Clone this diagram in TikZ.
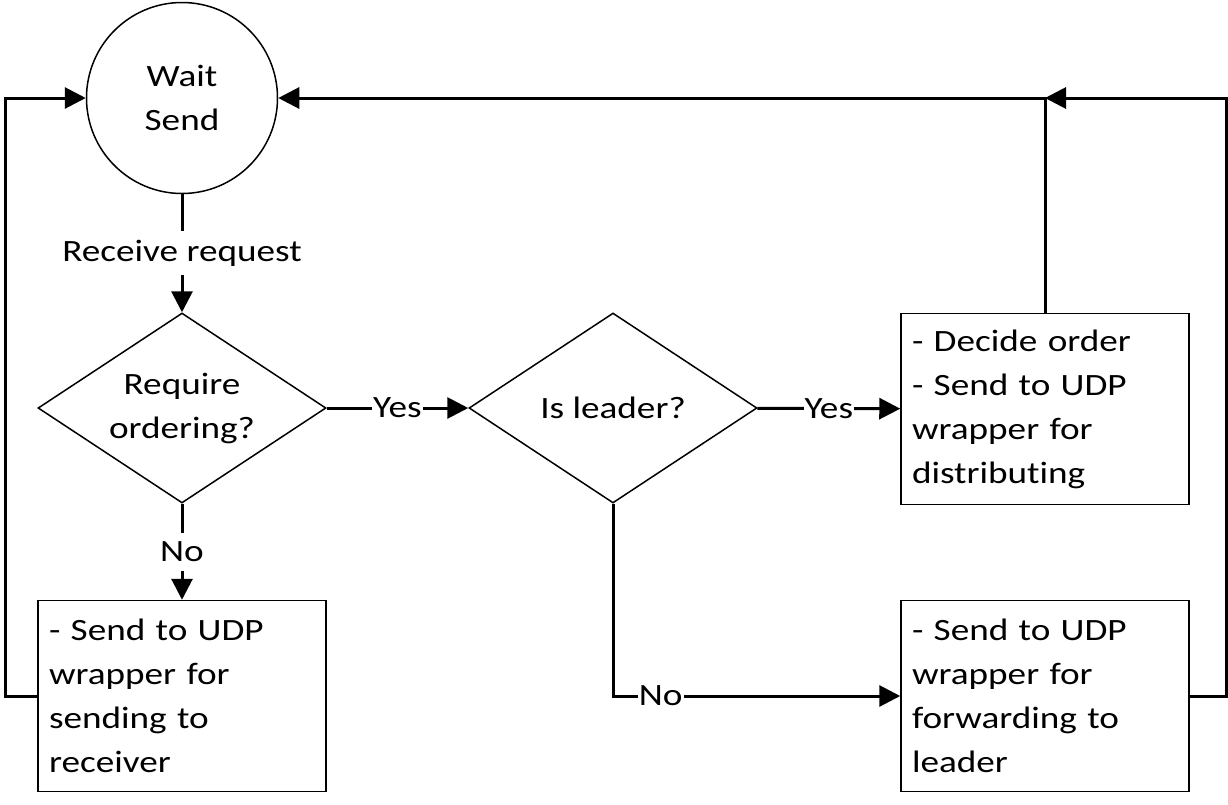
\documentclass[tikz,border=0pt]{standalone}
\usepackage{fontspec}
\setmainfont{Carlito}[FakeStretch=1.2,Ligatures=NoCommon]
\usetikzlibrary{arrows.meta,shapes.geometric}
\begin{document}
\begin{tikzpicture}[x=1pt,y=-1pt,font=\fontsize{31}{44}\selectfont,
    state/.style={circle,draw,line width=1.5pt,minimum size=191pt,inner sep=0pt,align=center},
    test/.style={diamond,draw,line width=1.5pt,minimum width=288pt,minimum height=190pt,inner sep=0pt},
    task/.style={rectangle,draw,line width=1.5pt,minimum width=288pt,minimum height=191pt,inner sep=11pt,text width=266pt,align=left},
    lbl/.style={fill=white,inner xsep=1pt,inner ysep=9pt}]
      \useasboundingbox (0,0) rectangle (1228,804);
      \node[state] (w) at (182,98) {Wait\\Send};
      \node[test,label={[align=center]center:Require\\ordering?}] (d1) at (182,408) {};
      \node[test,label={center:Is leader?}] (d2) at (613,408) {};
      \node[task] (b1) at (1045,409) {- Decide order\\- Send to UDP\\wrapper for\\distributing};
      \node[task] (b2) at (1045,696) {- Send to UDP\\wrapper for\\forwarding to\\leader};
      \node[task] (b3) at (182,696) {- Send to UDP\\wrapper for\\sending to\\receiver};
      \coordinate (l) at (5,98);
      \coordinate (r) at (1226,98);
      \coordinate (t) at (b1.north |- w.east);
      \begin{scope}[line width=3pt,-{Triangle[length=21pt,width=21pt]}]
        \draw (w) to node[lbl]{Receive request} (d1);
        \draw (d1) to node[lbl]{Yes} (d2);
        \draw (d2) to node[lbl]{Yes} (b1);
        \draw (d1) to node[lbl]{No} (b3);
        \draw (d2) |- node[lbl,pos=0.583]{No} (b2);
        \draw (b1) |- (w);
        \draw (b2) -| (r) -- (t);
        \draw (b3) -| (l) -- (w);
      \end{scope}
    \end{tikzpicture}
\end{document}
